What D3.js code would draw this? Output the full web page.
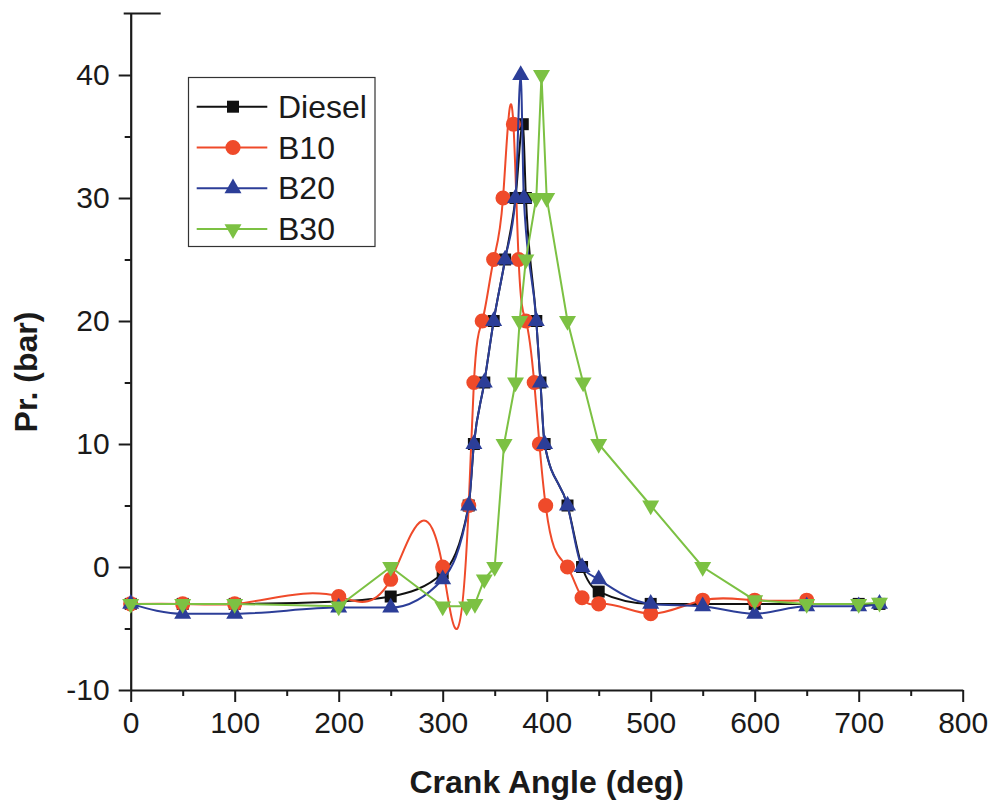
<!DOCTYPE html>
<html>
<head>
<meta charset="utf-8">
<script src="https://cdn.jsdelivr.net/npm/d3@7"></script>
<style>
  html, body { margin: 0; padding: 0; background: #fff; }
  svg { display: block; }
  text { font-family: "Liberation Sans", Arial, sans-serif; fill: #1a1a1a; }
</style>
</head>
<body>
<svg id="chart" width="995" height="802"></svg>
<script>
// Cylinder pressure vs crank angle for diesel and biodiesel blends
const dieselAngle = [0, 50, 100, 200, 250, 300, 325, 330, 340, 349, 360, 370, 377, 380, 390, 394, 398, 420, 434, 450, 500, 550, 600, 650, 700, 720];
const dieselPr    = [-3, -3, -3, -2.8, -2.4, -0.5, 5, 10, 15, 20, 25, 30, 36, 30, 20, 15, 10, 5, 0, -2, -3, -3, -3, -3, -3, -3];

const b10Angle = [0, 50, 100, 200, 250, 300, 325, 330, 338, 349, 358, 368, 373, 380, 388, 393, 399, 420, 434, 450, 500, 550, 600, 650];
const b10Pr    = [-3, -3, -3, -2.4, -1, 0, 5, 15, 20, 25, 30, 36, 25, 20, 15, 10, 5, 0, -2.5, -3, -3.8, -2.7, -2.7, -2.7];

const b20Angle = [0, 50, 100, 200, 250, 300, 325, 330, 340, 349, 360, 370, 375, 378, 390, 394, 398, 420, 434, 450, 500, 550, 600, 650, 700, 720];
const b20Pr    = [-3, -3.8, -3.8, -3.3, -3.3, -1, 5, 10, 15, 20, 25, 30, 40, 30, 20, 15, 10, 5, 0, -1, -3, -3.2, -3.8, -3.2, -3.2, -3];

const b30Angle = [0, 50, 100, 200, 250, 300, 323, 331, 340, 350, 359, 370, 374, 380, 390, 395, 400, 420, 435, 450, 500, 550, 600, 650, 700, 720];
const b30Pr    = [-3, -3, -3, -3.2, 0, -3.2, -3.2, -3, -1, 0, 10, 15, 20, 25, 30, 40, 30, 20, 15, 10, 5, 0, -2.7, -3, -3, -2.9];

const seriesNames = ["Diesel", "B10", "B20", "B30"];
const xTicks = [0, 100, 200, 300, 400, 500, 600, 700, 800];
const yTicks = [-10, 0, 10, 20, 30, 40];

// Cubic spline of y as a function of x (natural end conditions)
function curveSplineX(context) {
  return {
    areaStart() {}, areaEnd() {},
    lineStart() { this._x = []; this._y = []; },
    point(x, y) { this._x.push(+x); this._y.push(+y); },
    lineEnd() {
      const X = this._x, Y = this._y, n = X.length;
      if (n < 3) {
        context.moveTo(X[0], Y[0]);
        for (let i = 1; i < n; i++) context.lineTo(X[i], Y[i]);
        return;
      }
      const h = [], M = new Array(n).fill(0);
      for (let i = 0; i < n - 1; i++) h.push(X[i + 1] - X[i]);
      const a = [], b = [], c = [], r = [];
      for (let i = 1; i < n - 1; i++) {
        a.push(h[i - 1]); b.push(2 * (h[i - 1] + h[i])); c.push(h[i]);
        r.push(6 * ((Y[i + 1] - Y[i]) / h[i] - (Y[i] - Y[i - 1]) / h[i - 1]));
      }
      const m = b.length;
      for (let i = 1; i < m; i++) {
        const w = a[i] / b[i - 1];
        b[i] -= w * c[i - 1];
        r[i] -= w * r[i - 1];
      }
      const sol = new Array(m);
      sol[m - 1] = r[m - 1] / b[m - 1];
      for (let i = m - 2; i >= 0; i--) sol[i] = (r[i] - c[i] * sol[i + 1]) / b[i];
      for (let i = 0; i < m; i++) M[i + 1] = sol[i];
      context.moveTo(X[0], Y[0]);
      for (let i = 0; i < n - 1; i++) {
        const hi = h[i], s = (Y[i + 1] - Y[i]) / hi;
        const d0 = s - hi * (2 * M[i] + M[i + 1]) / 6;
        const d1 = s + hi * (M[i] + 2 * M[i + 1]) / 6;
        context.bezierCurveTo(X[i] + hi / 3, Y[i] + d0 * hi / 3,
                              X[i + 1] - hi / 3, Y[i + 1] - d1 * hi / 3,
                              X[i + 1], Y[i + 1]);
      }
    }
  };
}

const series = [
  { name: seriesNames[0], angle: dieselAngle, pr: dieselPr, color: "#111111", symbol: d3.symbolSquare,   size: 144, rotate: 0,   curve: d3.curveMonotoneX },
  { name: seriesNames[1], angle: b10Angle,    pr: b10Pr,    color: "#ef4a2a", symbol: d3.symbolCircle,   size: 180, rotate: 0,   curve: curveSplineX },
  { name: seriesNames[2], angle: b20Angle,    pr: b20Pr,    color: "#2c3e98", symbol: d3.symbolTriangle, size: 125, rotate: 0,   curve: d3.curveMonotoneX },
  { name: seriesNames[3], angle: b30Angle,    pr: b30Pr,    color: "#7cc143", symbol: d3.symbolTriangle, size: 125, rotate: 180, curve: d3.curveLinear }
];

const svg = d3.select("#chart");
const x = d3.scaleLinear().domain([0, 800]).range([130.7, 962.7]);
const y = d3.scaleLinear().domain([-10, 45]).range([690, 13.5]);

// Axes
const axisColor = "#1a1a1a";
const xMinor = d3.range(50, 800, 100);
const yMinor = d3.range(-5, 45, 10);
const fmt = d => String(d);

const gx = svg.append("g").attr("transform", `translate(0,${y(-10)})`)
  .call(d3.axisBottom(x).tickValues(xTicks).tickSize(12).tickSizeOuter(0).tickPadding(10).tickFormat(fmt));
gx.append("g").call(d3.axisBottom(x).tickValues(xMinor).tickSize(6).tickSizeOuter(0).tickFormat(""))
  .select(".domain").remove();

const gy = svg.append("g").attr("transform", `translate(${x(0)},0)`)
  .call(d3.axisLeft(y).tickValues(yTicks).tickSize(12).tickSizeOuter(0).tickPadding(9).tickFormat(fmt));
gy.append("g").call(d3.axisLeft(y).tickValues(yMinor).tickSize(6).tickSizeOuter(0).tickFormat(""))
  .select(".domain").remove();

svg.selectAll(".domain").attr("stroke", axisColor).attr("stroke-width", 2.2);
svg.selectAll(".tick line").attr("stroke", axisColor).attr("stroke-width", 2);
svg.selectAll(".tick text").attr("font-size", 30).attr("font-family", "Liberation Sans, Arial, sans-serif").attr("fill", "#1a1a1a");
gx.selectAll(".tick text").attr("dy", "0.71em");

// cap at the top of the y axis
svg.append("line")
  .attr("x1", x(0) - 7).attr("x2", x(0) + 30)
  .attr("y1", y(45)).attr("y2", y(45))
  .attr("stroke", axisColor).attr("stroke-width", 2);

// Axis titles
svg.append("text")
  .attr("x", x(400)).attr("y", 793)
  .attr("text-anchor", "middle").attr("font-size", 32).attr("font-weight", "bold")
  .text("Crank Angle (deg)");
svg.append("text")
  .attr("transform", `translate(37,${372}) rotate(-90)`)
  .attr("text-anchor", "middle").attr("font-size", 32).attr("font-weight", "bold")
  .text("Pr. (bar)");

// Series lines and markers
series.forEach(s => {
  const pts = s.angle.map((a, i) => [a, s.pr[i]]);
  const line = d3.line()
    .x(d => x(d[0])).y(d => y(d[1]))
    .curve(s.curve);
  const g = svg.append("g");
  g.append("path").datum(pts)
    .attr("d", line).attr("fill", "none")
    .attr("stroke", s.color).attr("stroke-width", 2);
  const sym = d3.symbol().type(s.symbol).size(s.size);
  g.selectAll("path.m").data(pts).join("path").attr("class", "m")
    .attr("d", sym)
    .attr("transform", d => `translate(${x(d[0])},${y(d[1])}) rotate(${s.rotate})`)
    .attr("fill", s.color);
});

// Legend
const legend = svg.append("g");
legend.append("rect")
  .attr("x", 188.5).attr("y", 77.5).attr("width", 186.5).attr("height", 169)
  .attr("fill", "#fff").attr("stroke", "#333").attr("stroke-width", 1.2);
series.forEach((s, i) => {
  const cy = 106.7 + i * 40.8;
  legend.append("line").attr("x1", 196.7).attr("x2", 267.3).attr("y1", cy).attr("y2", cy)
    .attr("stroke", s.color).attr("stroke-width", 2);
  legend.append("path").attr("d", d3.symbol().type(s.symbol).size(s.size)())
    .attr("transform", `translate(233,${cy}) rotate(${s.rotate})`).attr("fill", s.color);
  legend.append("text").attr("x", 278).attr("y", cy + 11)
    .attr("font-size", 32).text(s.name);
});
</script>
</body>
</html>
